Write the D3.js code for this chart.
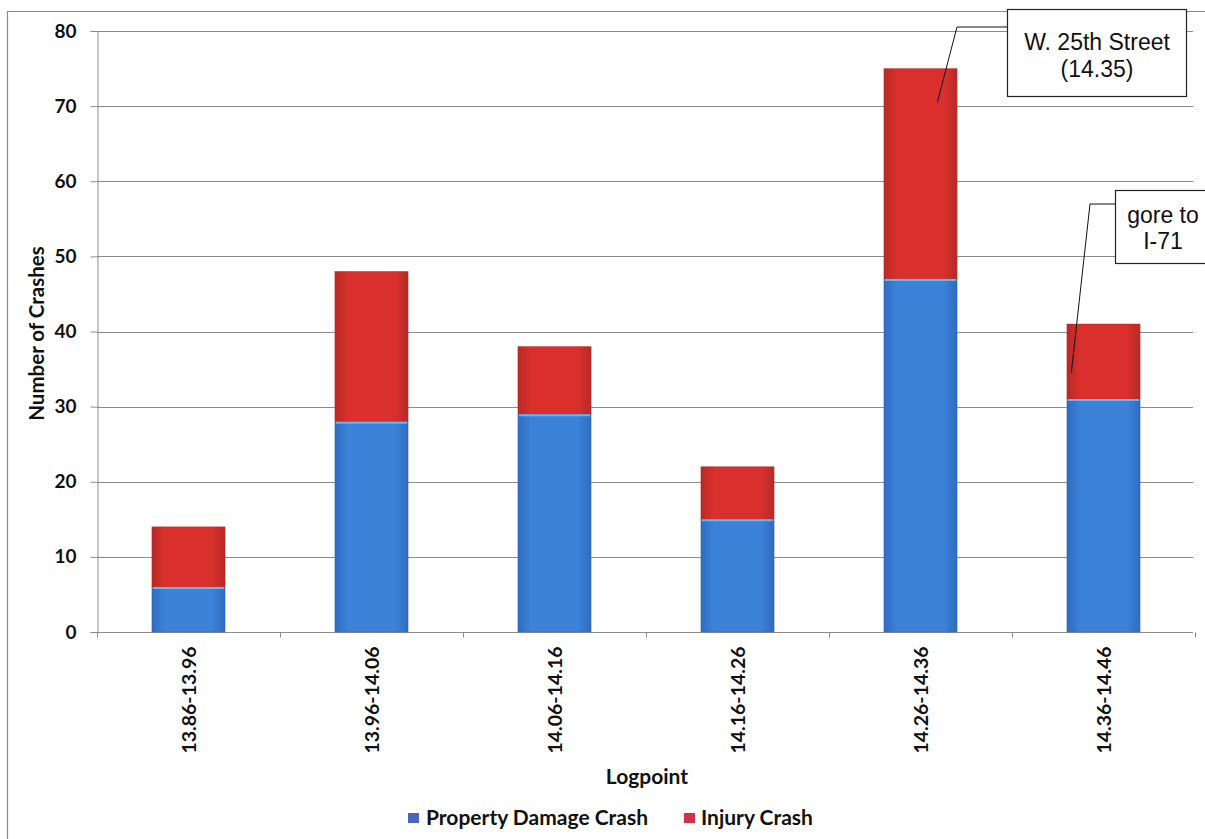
<!DOCTYPE html>
<html>
<head>
<meta charset="utf-8">
<script src="https://cdn.jsdelivr.net/npm/d3@7"></script>
<style>
  html, body { margin: 0; padding: 0; background: #fff; }
  svg { display: block; }
</style>
</head>
<body>
<svg id="chart" width="1205" height="839"></svg>
<script>
// Crash counts per logpoint segment
const categories = ["13.86-13.96", "13.96-14.06", "14.06-14.16", "14.16-14.26", "14.26-14.36", "14.36-14.46"];
const propertyDamage = [6, 28, 29, 15, 47, 31];
const injury = [8, 20, 9, 7, 28, 10];
const seriesNames = ["Property Damage Crash", "Injury Crash"];
const yTicks = [0, 10, 20, 30, 40, 50, 60, 70, 80];

// Callouts: text lines and the category / value they point at
const callouts = [
  { lines: ["W. 25th Street", "(14.35)"], category: "14.26-14.36", value: 70.5 },
  { lines: ["gore to", "I-71"], category: "14.36-14.46", value: 34.5 }
];

const W = 1205, H = 839;
const margin = { left: 97, right: 12, top: 31, bottom: 207 };
const svg = d3.select("#chart");
const labelFont = "Lato, 'Open Sans', sans-serif";

// Outer chart frame
svg.append("path")
  .attr("d", `M7.5,${H + 2} V11.5 H${W + 2}`)
  .attr("fill", "none").attr("stroke", "#8a8a8a").attr("stroke-width", 1.2);

const x = d3.scaleBand().domain(categories)
  .range([margin.left, W - margin.right + 2]).paddingInner(0.6).paddingOuter(0.3);
const y = d3.scaleLinear().domain([0, 80]).range([H - margin.bottom, margin.top]);

// Gradients for the bar fills
const defs = svg.append("defs");
function barGradient(id, edge, mid) {
  const g = defs.append("linearGradient").attr("id", id).attr("x1", 0).attr("x2", 1).attr("y1", 0).attr("y2", 0);
  g.append("stop").attr("offset", "0%").attr("stop-color", edge);
  g.append("stop").attr("offset", "18%").attr("stop-color", mid);
  g.append("stop").attr("offset", "82%").attr("stop-color", mid);
  g.append("stop").attr("offset", "100%").attr("stop-color", edge);
}
barGradient("gBlue", "#2f6cc0", "#3b82d8");
barGradient("gRed", "#b82a26", "#d9302d");

// Horizontal gridlines
svg.append("g").selectAll("line").data(yTicks.filter(d => d > 0)).join("line")
  .attr("x1", margin.left).attr("x2", W - margin.right)
  .attr("y1", d => Math.round(y(d)) + 0.5).attr("y2", d => Math.round(y(d)) + 0.5)
  .attr("stroke", "#8c8c8c").attr("stroke-width", 1);

// Y axis
const yAxis = svg.append("g").attr("transform", `translate(${margin.left + 0.5},0)`)
  .call(d3.axisLeft(y).tickValues(yTicks).tickSize(7).tickPadding(14));
yAxis.select(".domain").attr("stroke", "#8c8c8c");
yAxis.selectAll(".tick line").attr("stroke", "#8c8c8c");
yAxis.selectAll(".tick text")
  .attr("font-family", labelFont).attr("font-weight", "bold").attr("font-size", 19).attr("fill", "#111");

// X axis baseline and separator ticks
const y0 = Math.round(y(0)) + 0.5;
svg.append("line").attr("x1", margin.left).attr("x2", W - margin.right).attr("y1", y0).attr("y2", y0)
  .attr("stroke", "#8c8c8c");
const step = x.step();
const sepX = d3.range(categories.length + 1).map(i => margin.left + i * step);
svg.append("g").selectAll("line").data(sepX).join("line")
  .attr("x1", d => Math.round(d) + 0.5).attr("x2", d => Math.round(d) + 0.5)
  .attr("y1", y0).attr("y2", y0 + 5).attr("stroke", "#8c8c8c");

// Stacked bars
const rows = categories.map((c, i) => ({ category: c, pd: propertyDamage[i], inj: injury[i] }));
const stack = d3.stack().keys(["pd", "inj"])(rows);
const fills = ["url(#gBlue)", "url(#gRed)"];
const strokes = ["#2a5fa8", "#a82622"];
stack.forEach((layer, li) => {
  svg.append("g").selectAll("rect").data(layer).join("rect")
    .attr("x", d => x(d.data.category))
    .attr("width", x.bandwidth())
    .attr("y", d => y(d[1]))
    .attr("height", d => y(d[0]) - y(d[1]))
    .attr("fill", fills[li])
    .attr("stroke", strokes[li]).attr("stroke-width", 0.6).attr("stroke-opacity", 0.6);
});
// Light highlight at the top of each blue segment
svg.append("g").selectAll("line").data(stack[0]).join("line")
  .attr("x1", d => x(d.data.category) + 1).attr("x2", d => x(d.data.category) + x.bandwidth() - 1)
  .attr("y1", d => y(d[1]) + 1).attr("y2", d => y(d[1]) + 1)
  .attr("stroke", "#62b6f2").attr("stroke-width", 2);

// Category labels, rotated
svg.append("g").selectAll("text").data(categories).join("text")
  .attr("transform", d => `translate(${x(d) + x.bandwidth() / 2 + 7},${y0 + 14}) rotate(-90)`)
  .attr("text-anchor", "end")
  .attr("font-family", labelFont).attr("font-weight", "bold").attr("font-size", 19.5).attr("fill", "#111")
  .text(d => d);

// Axis titles
svg.append("text").attr("x", 647).attr("y", 784)
  .attr("text-anchor", "middle").attr("font-family", labelFont).attr("font-weight", "bold")
  .attr("font-size", 21).attr("fill", "#111").text("Logpoint");
svg.append("text").attr("transform", `translate(44,${(y(0) + y(80)) / 2 + 2}) rotate(-90)`)
  .attr("text-anchor", "middle").attr("font-family", labelFont).attr("font-weight", "bold")
  .attr("font-size", 20.5).attr("fill", "#111").text("Number of Crashes");

// Legend
const legendColors = ["#4a64c0", "#d0304a"];
const legend = svg.append("g");
const legendItems = [{ x: 408, tx: 426, name: seriesNames[0], c: legendColors[0] }, { x: 684, tx: 701, name: seriesNames[1], c: legendColors[1] }];
legendItems.forEach(it => {
  legend.append("rect").attr("x", it.x).attr("y", 813).attr("width", 11).attr("height", 10).attr("fill", it.c);
  legend.append("text").attr("x", it.tx).attr("y", 825)
    .attr("font-family", labelFont).attr("font-weight", "bold").attr("font-size", 21).attr("fill", "#111")
    .text(it.name);
});

// Callout boxes with leader lines
const boxes = [
  { x0: 1007.5, y0: 9.5, w: 179, h: 87, cx: 1097, elbow: [957, 27], lineY: [50, 77] },
  { x0: 1115.5, y0: 190.5, w: 100, h: 73, cx: 1163, elbow: [1090, 204], lineY: [223, 249] }
];
callouts.forEach((c, i) => {
  const b = boxes[i];
  const tx = x(c.category) + x.bandwidth() * (i === 0 ? 0.73 : 0.06);
  const ty = y(c.value);
  svg.append("polyline")
    .attr("points", `${b.x0},${b.elbow[1]} ${b.elbow[0]},${b.elbow[1]} ${tx},${ty}`)
    .attr("fill", "none").attr("stroke", "#111").attr("stroke-width", 1);
  svg.append("rect").attr("x", b.x0).attr("y", b.y0).attr("width", b.w).attr("height", b.h)
    .attr("fill", "#fff").attr("stroke", "#222").attr("stroke-width", 1.2);
  c.lines.forEach((ln, k) => {
    svg.append("text").attr("x", b.cx).attr("y", b.lineY[k])
      .attr("text-anchor", "middle").attr("font-family", "'Liberation Sans', Arial, sans-serif")
      .attr("font-size", 23).attr("fill", "#111").text(ln);
  });
});
</script>
</body>
</html>
